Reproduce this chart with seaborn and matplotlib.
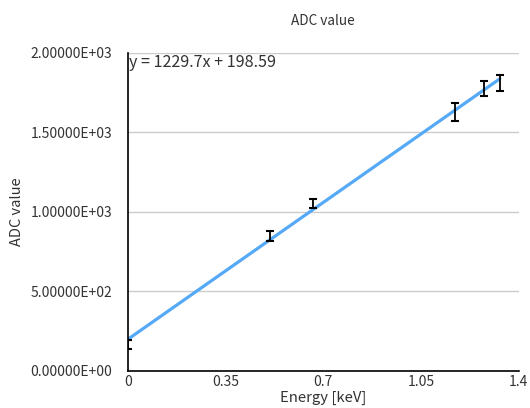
import numpy as np
import pandas as pd
import matplotlib
matplotlib.use("Agg")
import matplotlib.pyplot as plt
import seaborn as sns

# Calibration measurements: photopeak energy vs. ADC channel
energy_kev = [0.0, 0.511, 0.662, 1.173, 1.275, 1.332]
adc_value = [168, 850, 1052, 1626, 1775, 1810]
adc_error = [29, 32, 29, 58, 49, 48]

# Linear fit reported on the chart
slope = 1229.7
intercept = 198.59

x_ticks = [0, 0.35, 0.7, 1.05, 1.4]
x_tick_labels = ["0", "0.35", "0.7", "1.05", "1.4"]
y_ticks = [0, 500, 1000, 1500, 2000]

sns.set_theme(style="white")
plt.rcParams["font.family"] = ["Noto Sans CJK JP", "DejaVu Sans"]

fig = plt.figure(figsize=(5.3, 4.08), dpi=100)
ax = fig.add_axes([0.241, 0.0907, 0.738, 0.780])

fit_x = np.array([min(energy_kev), max(energy_kev)])
fit_df = pd.DataFrame({"energy": fit_x, "adc": slope * fit_x + intercept})
sns.lineplot(data=fit_df, x="energy", y="adc", ax=ax, color="#55a9f7",
             linewidth=2.3, zorder=2)

ax.errorbar(energy_kev, adc_value, yerr=adc_error, fmt="none",
            ecolor="black", elinewidth=1.3, capsize=3, capthick=1.5, zorder=3)

ax.set_xlim(0, 1.4)
ax.set_ylim(0, 2000)
ax.set_xticks(x_ticks)
ax.set_xticklabels(x_tick_labels)
ax.set_yticks(y_ticks)
ax.set_yticklabels([f"{v:.5E}" for v in y_ticks])
ax.tick_params(axis="x", length=0, labelsize=10, colors="#333333", pad=3)
ax.tick_params(axis="y", length=0, labelsize=10, colors="#333333", pad=11)

ax.yaxis.grid(True, color="#cccccc", linewidth=1)
ax.xaxis.grid(False)
ax.set_axisbelow(True)
for side in ("top", "right"):
    ax.spines[side].set_visible(False)
for side in ("left", "bottom"):
    ax.spines[side].set_color("black")
    ax.spines[side].set_linewidth(1.2)

ax.set_xlabel("Energy [keV]", fontsize=10.7, color="#333333", labelpad=1)
ax.set_ylabel("ADC value", fontsize=10.5, color="#333333", labelpad=5)
ax.set_title("ADC value", fontsize=9.8, color="#333333", pad=20)

ax.text(0.002, 0.995, f"y = {slope}x + {intercept}", transform=ax.transAxes,
        fontsize=11.6, color="#333333", ha="left", va="top")

fig.savefig("out.png", dpi=100)
